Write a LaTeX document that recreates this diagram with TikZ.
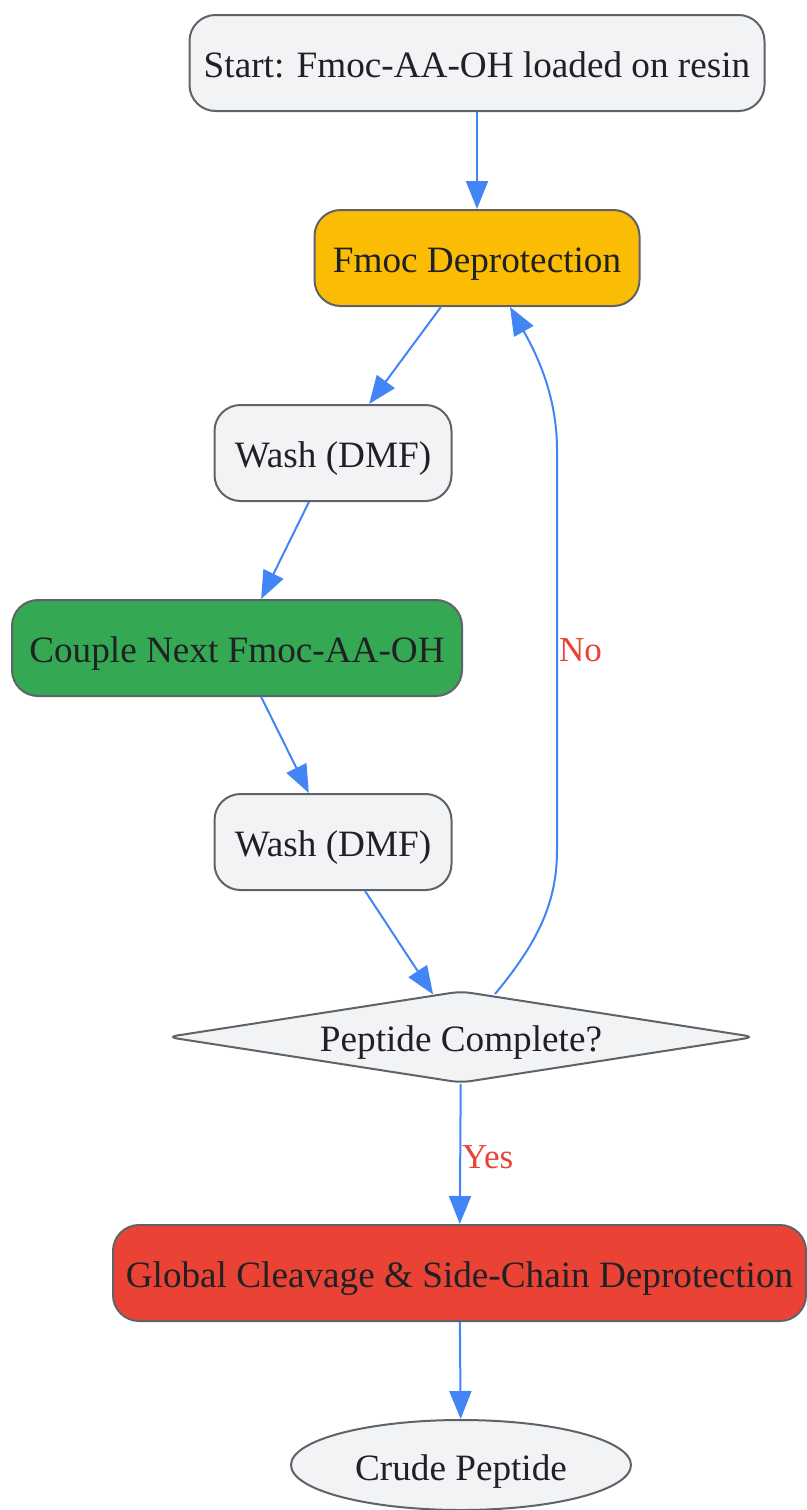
\documentclass[tikz,border=0pt]{standalone}
\usepackage{fontspec}
\setmainfont{Liberation Serif}
\usetikzlibrary{arrows.meta,shapes.geometric}

\definecolor{boxgray}{HTML}{F1F3F4}
\definecolor{edgegray}{HTML}{5F6368}
\definecolor{txtgray}{HTML}{202124}
\definecolor{deprotyellow}{HTML}{FBBC04}
\definecolor{couplegreen}{HTML}{34A853}
\definecolor{cleavered}{HTML}{EA4335}
\definecolor{flowblue}{HTML}{4285F4}

\tikzset{
  stepbox/.style={draw=edgegray, line width=2pt, fill=boxgray, rounded corners=26pt,
    minimum height=96pt, inner sep=0pt, text height=36pt, text depth=8pt,
    text=txtgray, font=\fontsize{37.2}{45}\selectfont},
  decision/.style={diamond, aspect=6.4, draw=edgegray, line width=2pt, fill=boxgray,
    rounded corners=10pt, minimum width=588pt, minimum height=92pt, inner sep=0pt,
    text height=36pt, text depth=8pt, text=txtgray, font=\fontsize{37.2}{45}\selectfont},
  endblob/.style={ellipse, draw=edgegray, line width=2pt, fill=boxgray,
    minimum width=340pt, minimum height=90pt, inner sep=0pt, text height=38pt, text depth=8pt,
    text=txtgray, font=\fontsize{37.2}{45}\selectfont},
  flow/.style={draw=flowblue, line width=2pt, -{Triangle[length=28pt,width=22pt]}},
  answer/.style={text=cleavered, inner sep=1pt, font=\fontsize{35}{42}\selectfont}
}

\begin{document}
\begin{tikzpicture}[x=1pt, y=-1pt]
        \useasboundingbox (0,0) rectangle (806,1510);

        % steps of the synthesis cycle
        \node[stepbox, minimum width=575pt] (start) at (477,63) {Start: Fmoc-AA-OH loaded on resin};
        \node[stepbox, minimum width=325pt, fill=deprotyellow] (deprot) at (477,258) {Fmoc Deprotection};
        \node[stepbox, minimum width=237pt] (washA) at (333,453) {Wash (DMF)};
        \node[stepbox, minimum width=450pt, fill=couplegreen] (couple) at (237,648) {Couple Next Fmoc-AA-OH};
        \node[stepbox, minimum width=237pt] (washB) at (333,842) {Wash (DMF)};
        \node[decision] (done) at (461,1037) {Peptide Complete?};
        \node[stepbox, minimum width=693pt, fill=cleavered] (cleave) at (459.5,1273) {Global Cleavage \& Side-Chain Deprotection};
        \node[endblob] (crude) at (461,1465) {Crude Peptide};

        \draw[flow] (start) -- (deprot);
        \draw[flow] (deprot) -- (washA);
        \draw[flow] (washA) -- (couple);
        \draw[flow] (couple) -- (washB);
        \draw[flow] (washB) -- (done);

        % loop back when not finished
        \draw[flow] ([xshift=34pt,yshift=-4pt]done.north) .. controls (540,940) and (557,900) .. (557,850)
            -- node[answer, anchor=west] {No} (557,450)
            .. controls (557,400) and (540,360) .. ([xshift=33pt]deprot.south);

        \draw[flow] (done) -- node[answer, anchor=west, pos=0.52] {Yes} (cleave);
        \draw[flow] (cleave) -- (crude);
    \end{tikzpicture}
\end{document}
